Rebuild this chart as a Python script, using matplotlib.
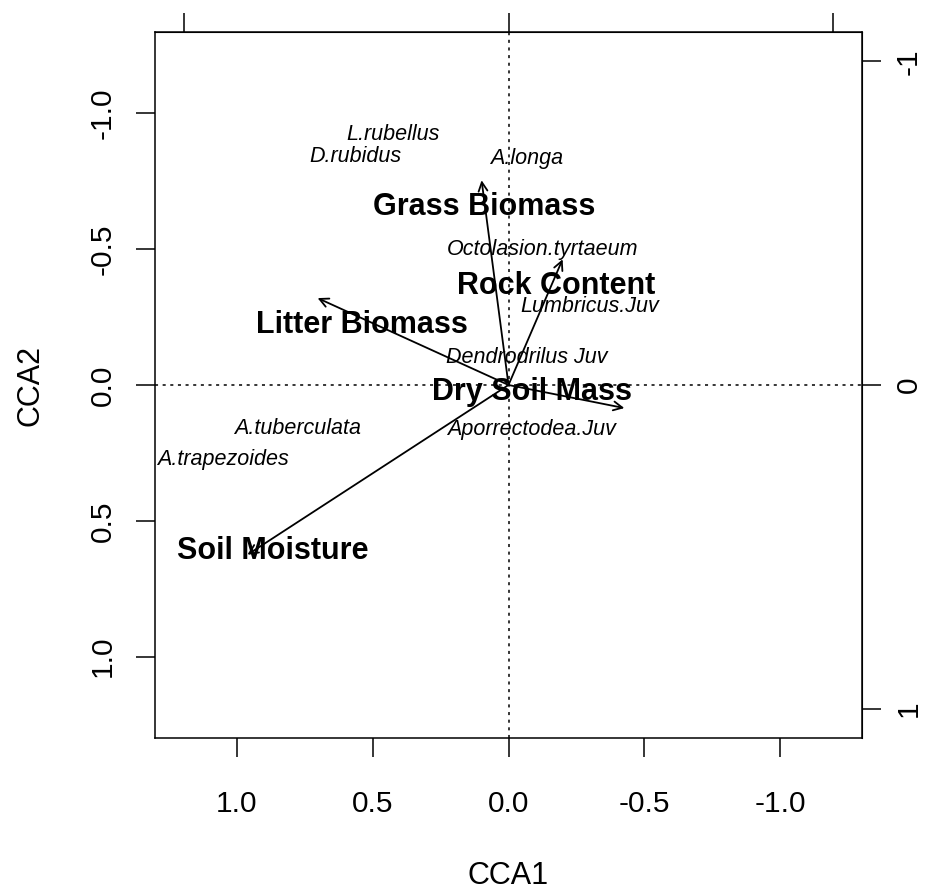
import numpy as np
import matplotlib
matplotlib.use("Agg")
import matplotlib.pyplot as plt

plt.rcParams['font.family'] = ['Liberation Sans', 'DejaVu Sans']

# biplot arrows (environmental variables), main CCA1/CCA2 scale
env_names = ['Grass Biomass', 'Rock Content', 'Litter Biomass', 'Dry Soil Mass', 'Soil Moisture']
env_x = [0.099, -0.199, 0.702, -0.426, 0.960]
env_y = [-0.754, -0.463, -0.320, 0.085, 0.625]
env_lab_x = [0.088, -0.176, 0.540, -0.088, 0.868]
env_lab_y = [-0.654, -0.364, -0.220, 0.026, 0.610]

# species scores
sp_names = ['L.rubellus', 'D.rubidus', 'A.longa', 'Octolasion.tyrtaeum', 'Lumbricus.Juv',
            'Dendrodrilus Juv', 'A.tuberculata', 'Aporrectodea.Juv', 'A.trapezoides']
sp_x = [0.426, 0.563, -0.066, -0.125, -0.300, -0.066, 0.776, -0.085, 1.051]
sp_y = [-0.923, -0.842, -0.835, -0.500, -0.290, -0.103, 0.162, 0.165, 0.276]

main_ticks = [1.0, 0.5, 0.0, -0.5, -1.0]
sec_ticks = [-1, 0, 1]
k = 0.839  # secondary axis scale

fig = plt.figure(figsize=(9.38, 8.96), dpi=100)
ax = fig.add_axes([155/938, 1 - 738/896, 707/938, 706/896])
ax.set_xlim(1.3, -1.3)
ax.set_ylim(1.3, -1.3)

ax.axhline(0, color='black', linestyle=(0, (2, 3)), linewidth=1.1)
ax.axvline(0, color='black', linestyle=(0, (2, 3)), linewidth=1.1)

for x, y in zip(env_x, env_y):
    ax.annotate('', xy=(x, y), xytext=(0, 0),
                arrowprops=dict(arrowstyle='->', color='black', lw=1.3,
                                shrinkA=0, shrinkB=0, mutation_scale=16))

for name, x, y in zip(sp_names, sp_x, sp_y):
    ax.text(x, y, name, fontsize=15.5, style='italic', ha='center', va='center')

for name, x, y in zip(env_names, env_lab_x, env_lab_y):
    ax.text(x, y, name, fontsize=22, fontweight='bold', ha='center', va='center')

ax.set_xticks(main_ticks)
ax.set_xticklabels(['%.1f' % t for t in main_ticks])
ax.set_yticks(main_ticks)
ax.set_yticklabels(['%.1f' % t for t in main_ticks], rotation=90, va='center')
ax.tick_params(direction='out', length=13.5, width=1.1, labelsize=21.5)
ax.tick_params(axis='x', pad=24)
ax.tick_params(axis='y', pad=14)
ax.set_xlabel('CCA1', fontsize=22, va='center')
ax.set_ylabel('CCA2', fontsize=22, va='center')
ax.xaxis.set_label_coords(0.5, -(876 - 738) / 706)
ax.yaxis.set_label_coords(-(155 - 30) / 707, 0.5)
for s in ax.spines.values():
    s.set_linewidth(1.1)

secx = ax.secondary_xaxis('top', functions=(lambda v: v * k, lambda v: v / k))
secx.set_xticks(sec_ticks)
secx.set_xticklabels([])
secx.tick_params(direction='out', length=13.5, width=1.1)
secy = ax.secondary_yaxis('right', functions=(lambda v: v * k, lambda v: v / k))
secy.set_yticks(sec_ticks)
secy.set_yticklabels([str(t) for t in sec_ticks], rotation=90, va='center')
secy.tick_params(direction='out', length=13.5, width=1.1, labelsize=21.5, pad=10)

fig.savefig('out.png', dpi=100)
